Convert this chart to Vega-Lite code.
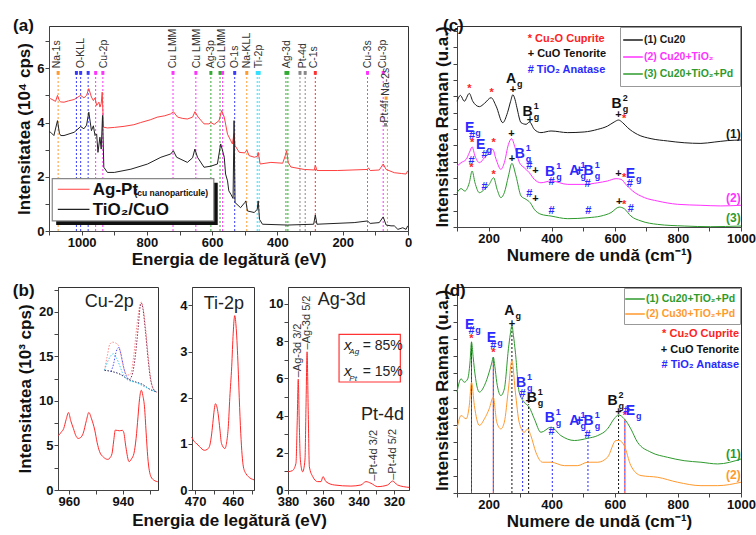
{
"$schema": "https://vega.github.io/schema/vega-lite/v6.json",
"background": "white",
"padding": {"left": 12, "top": 16, "right": 2, "bottom": 2},
"config": {
  "font": "Liberation Sans",
  "view": {"stroke": "#333", "strokeWidth": 1},
  "axis": {"labelFont": "Liberation Sans", "labelFontSize": 13, "labelFontWeight": "bold", "labelColor": "#111", "titleFont": "Liberation Sans", "titleFontSize": 17, "titleFontWeight": "bold", "titleColor": "#111", "domainColor": "#444", "tickColor": "#444", "tickSize": 4, "grid": false, "labelPadding": 1, "titlePadding": 3, "labelFlush": false, "labelOverlap": false},
  "text": {"font": "Liberation Sans"}
},
"datasets": {
  "surv": [
    {"x":1100,"y":4.9,"s":"Ag-Pt"},{"x":1095,"y":4.88,"s":"Ag-Pt"},{"x":1080,"y":4.78,"s":"Ag-Pt"},{"x":1074,"y":5.0,"s":"Ag-Pt"},{"x":1068,"y":4.8,"s":"Ag-Pt"},{"x":1064,"y":4.76,"s":"Ag-Pt"},{"x":1054,"y":4.75,"s":"Ag-Pt"},{"x":1040,"y":4.8,"s":"Ag-Pt"},{"x":1023,"y":4.85,"s":"Ag-Pt"},{"x":1003,"y":5.0,"s":"Ag-Pt"},{"x":993,"y":4.91,"s":"Ag-Pt"},{"x":985,"y":5.0,"s":"Ag-Pt"},{"x":978,"y":5.25,"s":"Ag-Pt"},{"x":970,"y":4.94,"s":"Ag-Pt"},{"x":964,"y":4.81,"s":"Ag-Pt"},{"x":959,"y":4.91,"s":"Ag-Pt"},{"x":954,"y":4.63,"s":"Ag-Pt"},{"x":947,"y":4.75,"s":"Ag-Pt"},{"x":944,"y":4.57,"s":"Ag-Pt"},{"x":940,"y":4.7,"s":"Ag-Pt"},{"x":937,"y":5.12,"s":"Ag-Pt"},{"x":933,"y":3.83,"s":"Ag-Pt"},{"x":921,"y":3.8,"s":"Ag-Pt"},{"x":900,"y":3.82,"s":"Ag-Pt"},{"x":870,"y":3.86,"s":"Ag-Pt"},{"x":840,"y":3.92,"s":"Ag-Pt"},{"x":819,"y":4.0,"s":"Ag-Pt"},{"x":790,"y":4.1,"s":"Ag-Pt"},{"x":768,"y":4.2,"s":"Ag-Pt"},{"x":745,"y":4.25,"s":"Ag-Pt"},{"x":727,"y":4.32,"s":"Ag-Pt"},{"x":719,"y":4.4,"s":"Ag-Pt"},{"x":706,"y":4.2,"s":"Ag-Pt"},{"x":690,"y":4.15,"s":"Ag-Pt"},{"x":676,"y":4.13,"s":"Ag-Pt"},{"x":660,"y":4.2,"s":"Ag-Pt"},{"x":653,"y":4.4,"s":"Ag-Pt"},{"x":643,"y":4.2,"s":"Ag-Pt"},{"x":625,"y":3.95,"s":"Ag-Pt"},{"x":610,"y":3.95,"s":"Ag-Pt"},{"x":604,"y":4.0,"s":"Ag-Pt"},{"x":594,"y":3.93,"s":"Ag-Pt"},{"x":579,"y":4.07,"s":"Ag-Pt"},{"x":571,"y":4.44,"s":"Ag-Pt"},{"x":563,"y":4.2,"s":"Ag-Pt"},{"x":553,"y":3.57,"s":"Ag-Pt"},{"x":543,"y":3.33,"s":"Ag-Pt"},{"x":538,"y":3.21,"s":"Ag-Pt"},{"x":533,"y":3.6,"s":"Ag-Pt"},{"x":530,"y":3.15,"s":"Ag-Pt"},{"x":517,"y":2.9,"s":"Ag-Pt"},{"x":500,"y":2.88,"s":"Ag-Pt"},{"x":494,"y":2.99,"s":"Ag-Pt"},{"x":487,"y":2.78,"s":"Ag-Pt"},{"x":471,"y":2.72,"s":"Ag-Pt"},{"x":462,"y":2.75,"s":"Ag-Pt"},{"x":459,"y":2.9,"s":"Ag-Pt"},{"x":453,"y":2.47,"s":"Ag-Pt"},{"x":420,"y":2.53,"s":"Ag-Pt"},{"x":384,"y":2.5,"s":"Ag-Pt"},{"x":376,"y":2.78,"s":"Ag-Pt"},{"x":372,"y":2.96,"s":"Ag-Pt"},{"x":367,"y":2.53,"s":"Ag-Pt"},{"x":359,"y":2.36,"s":"Ag-Pt"},{"x":318,"y":2.27,"s":"Ag-Pt"},{"x":287,"y":2.25,"s":"Ag-Pt"},{"x":284,"y":2.43,"s":"Ag-Pt"},{"x":279,"y":2.23,"s":"Ag-Pt"},{"x":216,"y":2.23,"s":"Ag-Pt"},{"x":124,"y":2.27,"s":"Ag-Pt"},{"x":121,"y":2.33,"s":"Ag-Pt"},{"x":116,"y":2.23,"s":"Ag-Pt"},{"x":88,"y":2.25,"s":"Ag-Pt"},{"x":76,"y":2.47,"s":"Ag-Pt"},{"x":67,"y":2.27,"s":"Ag-Pt"},{"x":42,"y":2.15,"s":"Ag-Pt"},{"x":20,"y":2.12,"s":"Ag-Pt"},{"x":6,"y":2.1,"s":"Ag-Pt"},{"x":1,"y":2.22,"s":"Ag-Pt"},
    {"x":1100,"y":3.66,"s":"TiO2/CuO"},{"x":1095,"y":3.64,"s":"TiO2/CuO"},{"x":1085,"y":3.52,"s":"TiO2/CuO"},{"x":1074,"y":4.07,"s":"TiO2/CuO"},{"x":1068,"y":3.6,"s":"TiO2/CuO"},{"x":1064,"y":3.52,"s":"TiO2/CuO"},{"x":1054,"y":3.52,"s":"TiO2/CuO"},{"x":1023,"y":3.64,"s":"TiO2/CuO"},{"x":1003,"y":3.85,"s":"TiO2/CuO"},{"x":993,"y":3.77,"s":"TiO2/CuO"},{"x":985,"y":3.9,"s":"TiO2/CuO"},{"x":978,"y":4.38,"s":"TiO2/CuO"},{"x":970,"y":3.7,"s":"TiO2/CuO"},{"x":964,"y":3.88,"s":"TiO2/CuO"},{"x":959,"y":3.52,"s":"TiO2/CuO"},{"x":954,"y":3.58,"s":"TiO2/CuO"},{"x":950,"y":2.9,"s":"TiO2/CuO"},{"x":944,"y":3.46,"s":"TiO2/CuO"},{"x":940,"y":3.02,"s":"TiO2/CuO"},{"x":936,"y":4.26,"s":"TiO2/CuO"},{"x":932,"y":2.35,"s":"TiO2/CuO"},{"x":921,"y":2.16,"s":"TiO2/CuO"},{"x":900,"y":2.16,"s":"TiO2/CuO"},{"x":849,"y":2.28,"s":"TiO2/CuO"},{"x":798,"y":2.47,"s":"TiO2/CuO"},{"x":757,"y":2.72,"s":"TiO2/CuO"},{"x":727,"y":2.84,"s":"TiO2/CuO"},{"x":719,"y":2.96,"s":"TiO2/CuO"},{"x":709,"y":2.72,"s":"TiO2/CuO"},{"x":676,"y":2.53,"s":"TiO2/CuO"},{"x":660,"y":2.7,"s":"TiO2/CuO"},{"x":653,"y":3.02,"s":"TiO2/CuO"},{"x":645,"y":2.72,"s":"TiO2/CuO"},{"x":625,"y":2.35,"s":"TiO2/CuO"},{"x":604,"y":2.39,"s":"TiO2/CuO"},{"x":584,"y":2.47,"s":"TiO2/CuO"},{"x":574,"y":3.21,"s":"TiO2/CuO"},{"x":569,"y":3.0,"s":"TiO2/CuO"},{"x":563,"y":2.72,"s":"TiO2/CuO"},{"x":559,"y":2.1,"s":"TiO2/CuO"},{"x":553,"y":1.85,"s":"TiO2/CuO"},{"x":549,"y":1.48,"s":"TiO2/CuO"},{"x":543,"y":1.36,"s":"TiO2/CuO"},{"x":536,"y":1.2,"s":"TiO2/CuO"},{"x":533,"y":4.07,"s":"TiO2/CuO"},{"x":530,"y":1.05,"s":"TiO2/CuO"},{"x":513,"y":0.86,"s":"TiO2/CuO"},{"x":500,"y":1.05,"s":"TiO2/CuO"},{"x":497,"y":1.11,"s":"TiO2/CuO"},{"x":492,"y":0.74,"s":"TiO2/CuO"},{"x":471,"y":0.68,"s":"TiO2/CuO"},{"x":462,"y":0.8,"s":"TiO2/CuO"},{"x":459,"y":1.11,"s":"TiO2/CuO"},{"x":455,"y":0.43,"s":"TiO2/CuO"},{"x":446,"y":0.25,"s":"TiO2/CuO"},{"x":369,"y":0.22,"s":"TiO2/CuO"},{"x":289,"y":0.25,"s":"TiO2/CuO"},{"x":284,"y":0.59,"s":"TiO2/CuO"},{"x":279,"y":0.25,"s":"TiO2/CuO"},{"x":165,"y":0.31,"s":"TiO2/CuO"},{"x":124,"y":0.37,"s":"TiO2/CuO"},{"x":116,"y":0.28,"s":"TiO2/CuO"},{"x":88,"y":0.31,"s":"TiO2/CuO"},{"x":76,"y":0.52,"s":"TiO2/CuO"},{"x":67,"y":0.22,"s":"TiO2/CuO"},{"x":52,"y":0.19,"s":"TiO2/CuO"},{"x":42,"y":0.19,"s":"TiO2/CuO"},{"x":31,"y":0.06,"s":"TiO2/CuO"},{"x":16,"y":0.12,"s":"TiO2/CuO"},{"x":6,"y":0.06,"s":"TiO2/CuO"},{"x":1,"y":0.19,"s":"TiO2/CuO"}
  ],
  "a_lines": [
    {"x":1072,"s":"Na","y":0,"y2":5.9},{"x":1016,"s":"O","y":0,"y2":5.9},{"x":1003,"s":"O","y":0,"y2":5.9},{"x":980,"s":"O","y":0,"y2":5.9},{"x":957,"s":"Cu","y":0,"y2":5.9},{"x":935,"s":"Cu","y":0,"y2":5.9},{"x":720,"s":"Cu","y":0,"y2":5.9},{"x":650,"s":"Cu","y":0,"y2":5.9},{"x":604,"s":"Ag","y":0,"y2":5.9},{"x":576,"s":"Ag","y":0,"y2":5.9},{"x":568,"s":"Cu","y":0,"y2":5.9},{"x":531,"s":"O","y":0,"y2":5.9},{"x":494,"s":"Na","y":0,"y2":5.9},{"x":462,"s":"Ti","y":0,"y2":5.9},{"x":456,"s":"Ti","y":0,"y2":5.9},{"x":374,"s":"Ag","y":0,"y2":5.9},{"x":368,"s":"Ag","y":0,"y2":5.9},{"x":331,"s":"Pt","y":0,"y2":5.9},{"x":315,"s":"Pt","y":0,"y2":5.9},{"x":284,"s":"C","y":0,"y2":5.9},{"x":124,"s":"Cu","y":0,"y2":5.9},{"x":76,"s":"Cu","y":0,"y2":5.9},{"x":63,"s":"Na","y":0,"y2":4.84}
  ],
  "a_bars": [
    {"x":1072,"s":"Na","y":5.76,"y2":5.9},{"x":1016,"s":"O","y":5.76,"y2":5.9},{"x":1003,"s":"O","y":5.76,"y2":5.9},{"x":980,"s":"O","y":5.76,"y2":5.9},{"x":957,"s":"Cu","y":5.76,"y2":5.9},{"x":935,"s":"Cu","y":5.76,"y2":5.9},{"x":720,"s":"Cu","y":5.76,"y2":5.9},{"x":650,"s":"Cu","y":5.76,"y2":5.9},{"x":604,"s":"Ag","y":5.76,"y2":5.9},{"x":576,"s":"Ag","y":5.76,"y2":5.9},{"x":568,"s":"Cu","y":5.76,"y2":5.9},{"x":531,"s":"O","y":5.76,"y2":5.9},{"x":494,"s":"Na","y":5.76,"y2":5.9},{"x":462,"s":"Ti","y":5.76,"y2":5.9},{"x":456,"s":"Ti","y":5.76,"y2":5.9},{"x":374,"s":"Ag","y":5.76,"y2":5.9},{"x":368,"s":"Ag","y":5.76,"y2":5.9},{"x":331,"s":"Pt","y":5.76,"y2":5.9},{"x":315,"s":"Pt","y":5.76,"y2":5.9},{"x":284,"s":"C","y":5.76,"y2":5.9},{"x":124,"s":"Cu","y":5.76,"y2":5.9},{"x":76,"s":"Cu","y":5.76,"y2":5.9},{"x":67,"s":"Na","y":4.84,"y2":4.96},{"x":69,"s":"Pt","y":3.85,"y2":3.98}
  ],
  "a_lab": [
    {"x":1074,"y":6.0,"t":"Na-1s"},{"x":1001,"y":6.0,"t":"O-KLL"},{"x":933,"y":6.0,"t":"Cu-2p"},{"x":720,"y":6.0,"t":"Cu LMM"},{"x":648,"y":6.0,"t":"Cu LMM"},{"x":605,"y":6.0,"t":"Ag-3p"},{"x":570,"y":6.0,"t":"Cu LMM"},{"x":531,"y":6.0,"t":"O-1s"},{"x":492,"y":6.0,"t":"Na-KLL"},{"x":457,"y":6.0,"t":"Ti-2p"},{"x":372,"y":6.0,"t":"Ag-3d"},{"x":323,"y":6.0,"t":"Pt-4d"},{"x":287,"y":6.0,"t":"C-1s"},{"x":124,"y":6.0,"t":"Cu-3s"},{"x":76,"y":6.0,"t":"Cu-3p"},{"x":67,"y":4.99,"t":"Na-2s"},{"x":69,"y":4.0,"t":"Pt-4f"}
  ],
  "a_leg_rules": [
    {"x":1073,"x2":976,"y":1.54,"s":"Ag-Pt"},{"x":1073,"x2":976,"y":0.8,"s":"TiO2/CuO"}
  ],
  "b_cu": [
    {"x":964,"y":6.1},{"x":963.7,"y":6.17},{"x":962.8,"y":6.5},{"x":961.9,"y":6.9},{"x":961,"y":7.9},{"x":960.1,"y":8.7},{"x":959.3,"y":7.8},{"x":958.3,"y":6.91},{"x":957.4,"y":6.1},{"x":956.5,"y":5.79},{"x":955.6,"y":5.9},{"x":954.7,"y":6.35},{"x":953.5,"y":7.8},{"x":952.6,"y":8.7},{"x":951.6,"y":8.0},{"x":950.4,"y":6.73},{"x":949.5,"y":5.3},{"x":948.6,"y":4.3},{"x":947.2,"y":3.7},{"x":945.6,"y":3.44},{"x":944.8,"y":3.6},{"x":944,"y":4.11},{"x":943.4,"y":5.5},{"x":942.8,"y":6.73},{"x":941.3,"y":6.65},{"x":940.2,"y":6.7},{"x":939.7,"y":6.5},{"x":938.9,"y":4.86},{"x":937.7,"y":3.18},{"x":936.8,"y":3.5},{"x":935.9,"y":4.11},{"x":935.1,"y":5.8},{"x":934.4,"y":8.22},{"x":933.8,"y":10.3},{"x":933.2,"y":11.2},{"x":932.6,"y":10.6},{"x":932,"y":9.34},{"x":931.4,"y":6.5},{"x":930.8,"y":3.74},{"x":929.6,"y":1.49},{"x":928.5,"y":1.1},{"x":927.1,"y":0.93}
  ],
  "b_fit": [
    {"x":946.8,"y":13.45,"s":"env"},{"x":945.8,"y":15.0,"s":"env"},{"x":944.8,"y":16.4,"s":"env"},{"x":943.8,"y":16.6,"s":"env"},{"x":942.6,"y":16.5,"s":"env"},{"x":941.4,"y":16.1,"s":"env"},{"x":940.6,"y":15.0,"s":"env"},{"x":939.6,"y":13.6,"s":"env"},{"x":938.4,"y":12.9,"s":"env"},{"x":937.2,"y":13.0,"s":"env"},{"x":936.0,"y":15.0,"s":"env"},{"x":934.8,"y":18.5,"s":"env"},{"x":933.6,"y":20.9,"s":"env"},{"x":933.2,"y":21.1,"s":"env"},{"x":932.6,"y":20.6,"s":"env"},{"x":931.7,"y":18.5,"s":"env"},{"x":930.6,"y":15.0,"s":"env"},{"x":929.9,"y":13.0,"s":"env"},{"x":928.5,"y":11.2,"s":"env"},{"x":927.5,"y":11.0,"s":"env"},
    {"x":946.8,"y":13.45,"s":"base"},{"x":944,"y":13.3,"s":"base"},{"x":941,"y":13.0,"s":"base"},{"x":938.4,"y":12.5,"s":"base"},{"x":935,"y":12.1,"s":"base"},{"x":933,"y":11.9,"s":"base"},{"x":930,"y":11.3,"s":"base"},{"x":927.5,"y":11.0,"s":"base"},
    {"x":946.8,"y":13.45,"s":"c1"},{"x":945.5,"y":14.5,"s":"c1"},{"x":944.4,"y":15.1,"s":"c1"},{"x":943.5,"y":15.3,"s":"c1"},{"x":942.5,"y":14.9,"s":"c1"},{"x":941.2,"y":14.0,"s":"c1"},{"x":940.2,"y":13.2,"s":"c1"},{"x":938.4,"y":12.4,"s":"c1"},{"x":935,"y":12.05,"s":"c1"},{"x":932,"y":11.6,"s":"c1"},{"x":927.5,"y":11.0,"s":"c1"},
    {"x":944.4,"y":13.3,"s":"c2"},{"x":943.4,"y":14.2,"s":"c2"},{"x":942.6,"y":15.4,"s":"c2"},{"x":941.6,"y":16.0,"s":"c2"},{"x":940.8,"y":15.4,"s":"c2"},{"x":940,"y":14.2,"s":"c2"},{"x":939,"y":13.0,"s":"c2"},{"x":938,"y":12.5,"s":"c2"},
    {"x":937.6,"y":12.4,"s":"c3"},{"x":936.5,"y":13.0,"s":"c3"},{"x":935.5,"y":14.8,"s":"c3"},{"x":934.4,"y":18.0,"s":"c3"},{"x":933.6,"y":20.6,"s":"c3"},{"x":933.2,"y":21.0,"s":"c3"},{"x":932.6,"y":20.4,"s":"c3"},{"x":931.7,"y":18.0,"s":"c3"},{"x":930.6,"y":14.5,"s":"c3"},{"x":929.9,"y":12.7,"s":"c3"},{"x":928.8,"y":11.4,"s":"c3"},{"x":927.5,"y":11.0,"s":"c3"}
  ],
  "b_ti": [
    {"x":470.9,"y":1.15},{"x":470.2,"y":1.05},{"x":469.5,"y":1.0},{"x":468.8,"y":0.94},{"x":467.5,"y":0.86},{"x":466.8,"y":0.88},{"x":466.2,"y":0.94},{"x":465.7,"y":1.15},{"x":465.3,"y":1.44},{"x":464.9,"y":1.75},{"x":464.6,"y":1.87},{"x":464.2,"y":1.8},{"x":463.9,"y":1.66},{"x":463.4,"y":1.3},{"x":463,"y":1.01},{"x":462.1,"y":0.9},{"x":461.6,"y":1.05},{"x":461.2,"y":1.37},{"x":460.8,"y":2.0},{"x":460.3,"y":2.67},{"x":459.9,"y":3.4},{"x":459.5,"y":3.78},{"x":459.1,"y":3.5},{"x":458.6,"y":2.67},{"x":458.3,"y":2.0},{"x":457.9,"y":1.23},{"x":457.2,"y":0.5},{"x":456.5,"y":0.35},{"x":455.9,"y":0.29},{"x":454.4,"y":0.22}
  ],
  "b_ag": [
    {"x":380,"y":0.98},{"x":377.5,"y":1.04},{"x":375.5,"y":1.43},{"x":374.8,"y":3.6},{"x":374.2,"y":5.95},{"x":373.6,"y":3.5},{"x":373,"y":1.61},{"x":371.7,"y":0.98},{"x":370.4,"y":1.61},{"x":369.8,"y":4.5},{"x":369.2,"y":7.42},{"x":368.6,"y":4.5},{"x":367.9,"y":1.25},{"x":366,"y":0.72},{"x":363.2,"y":0.45},{"x":361.3,"y":0.45},{"x":360.2,"y":0.72},{"x":358.5,"y":0.45},{"x":353.8,"y":0.27},{"x":344.4,"y":0.21},{"x":338.7,"y":0.27},{"x":335.9,"y":0.45},{"x":333,"y":0.36},{"x":329.3,"y":0.18},{"x":323.6,"y":0.27},{"x":320.8,"y":0.48},{"x":318,"y":0.27},{"x":311.4,"y":0.14}
  ],
  "b_ag_lab": [
    {"x":374.2,"y":6.05,"t":"–Ag-3d 3/2"},{"x":369.1,"y":7.55,"t":"–Ag-3d 5/2"},{"x":331.5,"y":0.5,"t":"–Pt-4d 3/2"},{"x":320.8,"y":0.55,"t":"–Pt-4d 5/2"}
  ],
  "rc": [
    {"x":100,"y":7.7,"s":"(1) Cu20"},{"x":111,"y":8.06,"s":"(1) Cu20"},{"x":123,"y":7.7,"s":"(1) Cu20"},{"x":139,"y":8.18,"s":"(1) Cu20"},{"x":150,"y":7.7,"s":"(1) Cu20"},{"x":171,"y":7.37,"s":"(1) Cu20"},{"x":187,"y":7.57,"s":"(1) Cu20"},{"x":208,"y":7.92,"s":"(1) Cu20"},{"x":224,"y":7.4,"s":"(1) Cu20"},{"x":245,"y":6.39,"s":"(1) Cu20"},{"x":260,"y":7.0,"s":"(1) Cu20"},{"x":270,"y":7.7,"s":"(1) Cu20"},{"x":277,"y":8.1,"s":"(1) Cu20"},{"x":284,"y":7.8,"s":"(1) Cu20"},{"x":290,"y":7.3,"s":"(1) Cu20"},{"x":303,"y":6.39,"s":"(1) Cu20"},{"x":319,"y":6.29,"s":"(1) Cu20"},{"x":330,"y":6.43,"s":"(1) Cu20"},{"x":345,"y":5.98,"s":"(1) Cu20"},{"x":366,"y":5.78,"s":"(1) Cu20"},{"x":398,"y":5.88,"s":"(1) Cu20"},{"x":451,"y":5.78,"s":"(1) Cu20"},{"x":503,"y":5.82,"s":"(1) Cu20"},{"x":546,"y":5.98,"s":"(1) Cu20"},{"x":577,"y":6.18,"s":"(1) Cu20"},{"x":598,"y":6.43,"s":"(1) Cu20"},{"x":612,"y":6.55,"s":"(1) Cu20"},{"x":625,"y":6.39,"s":"(1) Cu20"},{"x":641,"y":6.08,"s":"(1) Cu20"},{"x":672,"y":5.67,"s":"(1) Cu20"},{"x":715,"y":5.41,"s":"(1) Cu20"},{"x":767,"y":5.27,"s":"(1) Cu20"},{"x":820,"y":5.16,"s":"(1) Cu20"},{"x":873,"y":5.12,"s":"(1) Cu20"},{"x":915,"y":5.2,"s":"(1) Cu20"},{"x":957,"y":5.29,"s":"(1) Cu20"},{"x":1000,"y":5.33,"s":"(1) Cu20"},
    {"x":100,"y":3.73,"s":"(2) Cu20+TiO₂"},{"x":113,"y":3.94,"s":"(2) Cu20+TiO₂"},{"x":129,"y":4.14,"s":"(2) Cu20+TiO₂"},{"x":139,"y":4.55,"s":"(2) Cu20+TiO₂"},{"x":148,"y":4.9,"s":"(2) Cu20+TiO₂"},{"x":157,"y":4.35,"s":"(2) Cu20+TiO₂"},{"x":171,"y":3.94,"s":"(2) Cu20+TiO₂"},{"x":187,"y":4.24,"s":"(2) Cu20+TiO₂"},{"x":202,"y":4.55,"s":"(2) Cu20+TiO₂"},{"x":213,"y":4.76,"s":"(2) Cu20+TiO₂"},{"x":224,"y":4.14,"s":"(2) Cu20+TiO₂"},{"x":239,"y":3.53,"s":"(2) Cu20+TiO₂"},{"x":250,"y":3.94,"s":"(2) Cu20+TiO₂"},{"x":263,"y":5.06,"s":"(2) Cu20+TiO₂"},{"x":273,"y":5.41,"s":"(2) Cu20+TiO₂"},{"x":284,"y":4.86,"s":"(2) Cu20+TiO₂"},{"x":298,"y":3.94,"s":"(2) Cu20+TiO₂"},{"x":313,"y":3.63,"s":"(2) Cu20+TiO₂"},{"x":329,"y":3.33,"s":"(2) Cu20+TiO₂"},{"x":345,"y":2.92,"s":"(2) Cu20+TiO₂"},{"x":366,"y":2.71,"s":"(2) Cu20+TiO₂"},{"x":398,"y":2.82,"s":"(2) Cu20+TiO₂"},{"x":451,"y":2.61,"s":"(2) Cu20+TiO₂"},{"x":503,"y":2.61,"s":"(2) Cu20+TiO₂"},{"x":546,"y":2.71,"s":"(2) Cu20+TiO₂"},{"x":577,"y":2.82,"s":"(2) Cu20+TiO₂"},{"x":604,"y":2.96,"s":"(2) Cu20+TiO₂"},{"x":620,"y":2.92,"s":"(2) Cu20+TiO₂"},{"x":635,"y":2.61,"s":"(2) Cu20+TiO₂"},{"x":657,"y":2.2,"s":"(2) Cu20+TiO₂"},{"x":694,"y":1.8,"s":"(2) Cu20+TiO₂"},{"x":736,"y":1.59,"s":"(2) Cu20+TiO₂"},{"x":799,"y":1.39,"s":"(2) Cu20+TiO₂"},{"x":873,"y":1.33,"s":"(2) Cu20+TiO₂"},{"x":936,"y":1.29,"s":"(2) Cu20+TiO₂"},{"x":1000,"y":1.33,"s":"(2) Cu20+TiO₂"},
    {"x":100,"y":2.1,"s":"(3) Cu20+TiO₂+Pd"},{"x":113,"y":2.35,"s":"(3) Cu20+TiO₂+Pd"},{"x":125,"y":2.2,"s":"(3) Cu20+TiO₂+Pd"},{"x":139,"y":2.71,"s":"(3) Cu20+TiO₂+Pd"},{"x":148,"y":3.43,"s":"(3) Cu20+TiO₂+Pd"},{"x":157,"y":2.71,"s":"(3) Cu20+TiO₂+Pd"},{"x":171,"y":2.1,"s":"(3) Cu20+TiO₂+Pd"},{"x":187,"y":2.31,"s":"(3) Cu20+TiO₂+Pd"},{"x":202,"y":2.61,"s":"(3) Cu20+TiO₂+Pd"},{"x":216,"y":3.02,"s":"(3) Cu20+TiO₂+Pd"},{"x":227,"y":2.31,"s":"(3) Cu20+TiO₂+Pd"},{"x":239,"y":1.8,"s":"(3) Cu20+TiO₂+Pd"},{"x":250,"y":2.1,"s":"(3) Cu20+TiO₂+Pd"},{"x":263,"y":3.12,"s":"(3) Cu20+TiO₂+Pd"},{"x":274,"y":3.9,"s":"(3) Cu20+TiO₂+Pd"},{"x":287,"y":3.12,"s":"(3) Cu20+TiO₂+Pd"},{"x":303,"y":1.9,"s":"(3) Cu20+TiO₂+Pd"},{"x":319,"y":1.69,"s":"(3) Cu20+TiO₂+Pd"},{"x":332,"y":1.49,"s":"(3) Cu20+TiO₂+Pd"},{"x":345,"y":1.08,"s":"(3) Cu20+TiO₂+Pd"},{"x":366,"y":0.78,"s":"(3) Cu20+TiO₂+Pd"},{"x":398,"y":0.67,"s":"(3) Cu20+TiO₂+Pd"},{"x":451,"y":0.51,"s":"(3) Cu20+TiO₂+Pd"},{"x":515,"y":0.57,"s":"(3) Cu20+TiO₂+Pd"},{"x":556,"y":0.67,"s":"(3) Cu20+TiO₂+Pd"},{"x":588,"y":0.88,"s":"(3) Cu20+TiO₂+Pd"},{"x":614,"y":1.22,"s":"(3) Cu20+TiO₂+Pd"},{"x":630,"y":1.12,"s":"(3) Cu20+TiO₂+Pd"},{"x":651,"y":0.67,"s":"(3) Cu20+TiO₂+Pd"},{"x":683,"y":0.37,"s":"(3) Cu20+TiO₂+Pd"},{"x":736,"y":0.16,"s":"(3) Cu20+TiO₂+Pd"},{"x":820,"y":0.06,"s":"(3) Cu20+TiO₂+Pd"},{"x":903,"y":0.02,"s":"(3) Cu20+TiO₂+Pd"},{"x":1000,"y":0.06,"s":"(3) Cu20+TiO₂+Pd"}
  ],
  "c_num": [
    {"x":976,"y":5.67,"t":"(1)","s":"(1) Cu20"},{"x":976,"y":1.75,"t":"(2)","s":"(2) Cu20+TiO₂"},{"x":976,"y":0.57,"t":"(3)","s":"(3) Cu20+TiO₂+Pd"}
  ],
  "c_sym": [
    {"x":139,"y":8.47,"t":"*","s":"Cu2O"},{"x":210,"y":8.18,"t":"*","s":"Cu2O"},{"x":277,"y":8.39,"t":"+","s":"CuO"},{"x":331,"y":6.53,"t":"+","s":"CuO"},{"x":612,"y":6.86,"t":"+","s":"CuO"},{"x":630,"y":6.6,"t":"*","s":"Cu2O"},
    {"x":148,"y":5.55,"t":"#","s":"TiO2"},{"x":148,"y":5.16,"t":"*","s":"Cu2O"},{"x":187,"y":4.43,"t":"#","s":"TiO2"},{"x":216,"y":5.14,"t":"*","s":"Cu2O"},{"x":273,"y":5.71,"t":"+","s":"CuO"},{"x":329,"y":3.73,"t":"#","s":"TiO2"},{"x":349,"y":3.43,"t":"+","s":"CuO"},{"x":400,"y":2.76,"t":"#","s":"TiO2"},{"x":514,"y":2.61,"t":"#","s":"TiO2"},{"x":612,"y":3.24,"t":"+","s":"CuO"},{"x":630,"y":3.02,"t":"*","s":"Cu2O"},{"x":648,"y":2.65,"t":"#","s":"TiO2"},
    {"x":146,"y":4.02,"t":"#","s":"TiO2"},{"x":146,"y":3.63,"t":"*","s":"Cu2O"},{"x":187,"y":2.47,"t":"#","s":"TiO2"},{"x":216,"y":3.16,"t":"*","s":"Cu2O"},{"x":274,"y":4.14,"t":"+","s":"CuO"},{"x":329,"y":2.04,"t":"#","s":"TiO2"},{"x":349,"y":1.73,"t":"+","s":"CuO"},{"x":400,"y":0.98,"t":"#","s":"TiO2"},{"x":516,"y":0.98,"t":"#","s":"TiO2"},{"x":614,"y":1.55,"t":"+","s":"CuO"},{"x":630,"y":1.35,"t":"*","s":"Cu2O"},{"x":651,"y":1.12,"t":"#","s":"TiO2"}
  ],
  "c_ann": [
    {"x":287,"y":8.84,"t":"A","sub":"g","sup":"","s":"CuO"},{"x":340,"y":6.8,"t":"B","sub":"g","sup":"1","s":"CuO"},{"x":622,"y":7.3,"t":"B","sub":"g","sup":"2","s":"CuO"},
    {"x":155,"y":5.82,"t":"E","sub":"g","sup":"","s":"TiO2"},{"x":190,"y":4.8,"t":"E","sub":"g","sup":"","s":"TiO2"},{"x":315,"y":4.24,"t":"B","sub":"g","sup":"1","s":"TiO2"},{"x":411,"y":3.12,"t":"B","sub":"g","sup":"1","s":"TiO2"},{"x":488,"y":3.16,"t":"A","sub":"g","sup":"1","s":"TiO2"},{"x":533,"y":3.16,"t":"+B","sub":"g","sup":"1","s":"TiO2"},{"x":664,"y":3.02,"t":"E","sub":"g","sup":"","s":"TiO2"}
  ],
  "c_leg": [
    {"x":324,"y":11.53,"t":"* Cu₂O Cuprite","s":"Cu2O"},{"x":324,"y":10.57,"t":"+ CuO Tenorite","s":"CuO"},{"x":324,"y":9.59,"t":"# TiO₂ Anatase","s":"TiO2"}
  ],
  "rd": [
    {"x":100,"y":5.9,"s":"(1) Cu20+TiO₂+Pd"},{"x":113,"y":6.68,"s":"(1) Cu20+TiO₂+Pd"},{"x":123,"y":6.48,"s":"(1) Cu20+TiO₂+Pd"},{"x":134,"y":6.68,"s":"(1) Cu20+TiO₂+Pd"},{"x":141,"y":7.6,"s":"(1) Cu20+TiO₂+Pd"},{"x":146,"y":8.83,"s":"(1) Cu20+TiO₂+Pd"},{"x":151,"y":8.0,"s":"(1) Cu20+TiO₂+Pd"},{"x":155,"y":7.27,"s":"(1) Cu20+TiO₂+Pd"},{"x":171,"y":5.9,"s":"(1) Cu20+TiO₂+Pd"},{"x":187,"y":6.29,"s":"(1) Cu20+TiO₂+Pd"},{"x":202,"y":7.07,"s":"(1) Cu20+TiO₂+Pd"},{"x":210,"y":7.6,"s":"(1) Cu20+TiO₂+Pd"},{"x":215,"y":7.95,"s":"(1) Cu20+TiO₂+Pd"},{"x":220,"y":7.4,"s":"(1) Cu20+TiO₂+Pd"},{"x":226,"y":6.48,"s":"(1) Cu20+TiO₂+Pd"},{"x":239,"y":5.7,"s":"(1) Cu20+TiO₂+Pd"},{"x":250,"y":6.09,"s":"(1) Cu20+TiO₂+Pd"},{"x":263,"y":8.44,"s":"(1) Cu20+TiO₂+Pd"},{"x":269,"y":9.3,"s":"(1) Cu20+TiO₂+Pd"},{"x":274,"y":9.8,"s":"(1) Cu20+TiO₂+Pd"},{"x":279,"y":9.2,"s":"(1) Cu20+TiO₂+Pd"},{"x":285,"y":8.24,"s":"(1) Cu20+TiO₂+Pd"},{"x":297,"y":5.9,"s":"(1) Cu20+TiO₂+Pd"},{"x":313,"y":5.31,"s":"(1) Cu20+TiO₂+Pd"},{"x":329,"y":5.02,"s":"(1) Cu20+TiO₂+Pd"},{"x":345,"y":4.34,"s":"(1) Cu20+TiO₂+Pd"},{"x":366,"y":3.55,"s":"(1) Cu20+TiO₂+Pd"},{"x":398,"y":3.85,"s":"(1) Cu20+TiO₂+Pd"},{"x":429,"y":3.36,"s":"(1) Cu20+TiO₂+Pd"},{"x":472,"y":3.07,"s":"(1) Cu20+TiO₂+Pd"},{"x":514,"y":3.2,"s":"(1) Cu20+TiO₂+Pd"},{"x":546,"y":3.36,"s":"(1) Cu20+TiO₂+Pd"},{"x":577,"y":3.75,"s":"(1) Cu20+TiO₂+Pd"},{"x":598,"y":4.34,"s":"(1) Cu20+TiO₂+Pd"},{"x":612,"y":4.57,"s":"(1) Cu20+TiO₂+Pd"},{"x":630,"y":4.34,"s":"(1) Cu20+TiO₂+Pd"},{"x":651,"y":3.75,"s":"(1) Cu20+TiO₂+Pd"},{"x":672,"y":2.97,"s":"(1) Cu20+TiO₂+Pd"},{"x":715,"y":2.38,"s":"(1) Cu20+TiO₂+Pd"},{"x":767,"y":2.09,"s":"(1) Cu20+TiO₂+Pd"},{"x":820,"y":1.89,"s":"(1) Cu20+TiO₂+Pd"},{"x":873,"y":1.8,"s":"(1) Cu20+TiO₂+Pd"},{"x":926,"y":1.7,"s":"(1) Cu20+TiO₂+Pd"},{"x":1000,"y":1.99,"s":"(1) Cu20+TiO₂+Pd"},
    {"x":100,"y":3.75,"s":"(2) Cu30+TiO₂+Pd"},{"x":113,"y":4.53,"s":"(2) Cu30+TiO₂+Pd"},{"x":129,"y":4.34,"s":"(2) Cu30+TiO₂+Pd"},{"x":139,"y":5.12,"s":"(2) Cu30+TiO₂+Pd"},{"x":146,"y":6.48,"s":"(2) Cu30+TiO₂+Pd"},{"x":155,"y":5.12,"s":"(2) Cu30+TiO₂+Pd"},{"x":171,"y":3.95,"s":"(2) Cu30+TiO₂+Pd"},{"x":187,"y":4.34,"s":"(2) Cu30+TiO₂+Pd"},{"x":202,"y":4.92,"s":"(2) Cu30+TiO₂+Pd"},{"x":215,"y":5.6,"s":"(2) Cu30+TiO₂+Pd"},{"x":226,"y":4.14,"s":"(2) Cu30+TiO₂+Pd"},{"x":239,"y":3.75,"s":"(2) Cu30+TiO₂+Pd"},{"x":250,"y":4.14,"s":"(2) Cu30+TiO₂+Pd"},{"x":263,"y":6.09,"s":"(2) Cu30+TiO₂+Pd"},{"x":274,"y":7.75,"s":"(2) Cu30+TiO₂+Pd"},{"x":285,"y":5.9,"s":"(2) Cu30+TiO₂+Pd"},{"x":297,"y":4.14,"s":"(2) Cu30+TiO₂+Pd"},{"x":313,"y":3.55,"s":"(2) Cu30+TiO₂+Pd"},{"x":324,"y":3.75,"s":"(2) Cu30+TiO₂+Pd"},{"x":334,"y":3.36,"s":"(2) Cu30+TiO₂+Pd"},{"x":350,"y":2.38,"s":"(2) Cu30+TiO₂+Pd"},{"x":371,"y":1.8,"s":"(2) Cu30+TiO₂+Pd"},{"x":398,"y":1.8,"s":"(2) Cu30+TiO₂+Pd"},{"x":440,"y":1.6,"s":"(2) Cu30+TiO₂+Pd"},{"x":482,"y":1.6,"s":"(2) Cu30+TiO₂+Pd"},{"x":514,"y":1.8,"s":"(2) Cu30+TiO₂+Pd"},{"x":546,"y":1.8,"s":"(2) Cu30+TiO₂+Pd"},{"x":577,"y":2.09,"s":"(2) Cu30+TiO₂+Pd"},{"x":604,"y":3.07,"s":"(2) Cu30+TiO₂+Pd"},{"x":614,"y":3.07,"s":"(2) Cu30+TiO₂+Pd"},{"x":630,"y":2.77,"s":"(2) Cu30+TiO₂+Pd"},{"x":651,"y":1.6,"s":"(2) Cu30+TiO₂+Pd"},{"x":683,"y":1.02,"s":"(2) Cu30+TiO₂+Pd"},{"x":736,"y":0.92,"s":"(2) Cu30+TiO₂+Pd"},{"x":799,"y":0.63,"s":"(2) Cu30+TiO₂+Pd"},{"x":873,"y":0.43,"s":"(2) Cu30+TiO₂+Pd"},{"x":926,"y":0.43,"s":"(2) Cu30+TiO₂+Pd"},{"x":1000,"y":0.63,"s":"(2) Cu30+TiO₂+Pd"}
  ],
  "d_num": [
    {"x":976,"y":2.28,"t":"(1)","s":"(1) Cu20+TiO₂+Pd"},{"x":976,"y":1.05,"t":"(2)","s":"(2) Cu30+TiO₂+Pd"}
  ],
  "d_vl": [
    {"x":146,"y":0,"y2":8.85,"s":"Cu2O"},{"x":146,"y":0,"y2":8.85,"s":"TiO2"},{"x":215,"y":0,"y2":7.95,"s":"Cu2O"},{"x":215,"y":0,"y2":7.95,"s":"TiO2"},{"x":274,"y":0,"y2":9.75,"s":"CuO"},{"x":308,"y":0,"y2":5.6,"s":"TiO2"},{"x":327,"y":0,"y2":5.2,"s":"CuO"},{"x":402,"y":0,"y2":3.35,"s":"TiO2"},{"x":515,"y":0,"y2":3.2,"s":"TiO2"},{"x":612,"y":0,"y2":4.55,"s":"CuO"},{"x":632,"y":0,"y2":4.3,"s":"Cu2O"},{"x":632,"y":0,"y2":4.3,"s":"TiO2"}
  ],
  "d_sym": [
    {"x":146,"y":9.45,"t":"#","s":"TiO2"},{"x":146,"y":9.0,"t":"*","s":"Cu2O"},{"x":215,"y":8.6,"t":"#","s":"TiO2"},{"x":215,"y":8.2,"t":"*","s":"Cu2O"},{"x":274,"y":9.9,"t":"+","s":"CuO"},{"x":308,"y":5.8,"t":"#","s":"TiO2"},{"x":327,"y":5.4,"t":"+","s":"CuO"},{"x":400,"y":3.55,"t":"#","s":"TiO2"},{"x":514,"y":3.4,"t":"#","s":"TiO2"},{"x":612,"y":4.75,"t":"+","s":"CuO"},{"x":632,"y":4.48,"t":"*","s":"Cu2O"},{"x":637,"y":4.8,"t":"#","s":"TiO2"}
  ],
  "d_ann": [
    {"x":155,"y":9.61,"t":"E","sub":"g","sup":"","s":"TiO2"},{"x":224,"y":8.83,"t":"E","sub":"g","sup":"","s":"TiO2"},{"x":282,"y":10.39,"t":"A","sub":"g","sup":"","s":"CuO"},{"x":319,"y":6.19,"t":"B","sub":"g","sup":"1","s":"TiO2"},{"x":353,"y":5.31,"t":"B","sub":"g","sup":"1","s":"CuO"},{"x":410,"y":4.14,"t":"B","sub":"g","sup":"1","s":"TiO2"},{"x":488,"y":3.95,"t":"A","sub":"g","sup":"1","s":"TiO2"},{"x":533,"y":3.95,"t":"+B","sub":"g","sup":"1","s":"TiO2"},{"x":609,"y":5.12,"t":"B","sub":"g","sup":"2","s":"CuO"},{"x":664,"y":4.59,"t":"E","sub":"g","sup":"","s":"TiO2"}
  ],
  "d_leg": [
    {"x":994,"y":9.3,"t":"* Cu₂O Cuprite","s":"Cu2O"},{"x":994,"y":8.38,"t":"+ CuO Tenorite","s":"CuO"},{"x":994,"y":7.46,"t":"# TiO₂ Anatase","s":"TiO2"}
  ]
},
"spacing": 13,
"resolve": {"scale": {"color": "independent"}},
"vconcat": [
  {
    "bounds": "flush", "spacing": 49,
    "resolve": {"scale": {"color": "independent"}},
    "hconcat": [
      {
        "width": 359, "height": 205,
        "encoding": {
          "x": {"field": "x", "type": "quantitative", "scale": {"domain": [0, 1100], "reverse": true, "nice": false, "zero": false},
                "axis": {"values": [0,100,200,300,400,500,600,700,800,900,1000,1100], "format": "d", "labelExpr": "datum.value % 200 == 0 ? datum.label : ''", "title": "Energia de legătură (eV)", "titlePadding": 2}},
          "y": {"field": "y", "type": "quantitative", "scale": {"domain": [0, 7.56], "nice": false},
                "axis": {"values": [0,1,2,3,4,5,6,7], "format": "d", "labelExpr": "datum.value % 2 == 0 ? datum.label : ''", "title": "Intensitatea (10⁴ cps)", "titlePadding": 3}}
        },
        "layer": [
          {"data": {"name": "a_lines"}, "mark": {"type": "rule", "strokeDash": [2, 2], "strokeWidth": 1},
           "encoding": {"y2": {"field": "y2"}, "color": {"field": "s", "type": "nominal", "legend": null, "scale": {"domain": ["Ag-Pt","TiO2/CuO","Na","O","Cu","Ag","Ti","Pt","C"], "range": ["#ff4040","#222222","#ff9a2e","#3a3aff","#ff33ff","#33aa33","#33e0ff","#888888","#ff3030"]}}}},
          {"data": {"name": "a_bars"}, "mark": {"type": "rule", "strokeWidth": 3},
           "encoding": {"y2": {"field": "y2"}, "color": {"field": "s", "type": "nominal", "legend": null, "scale": {"domain": ["Ag-Pt","TiO2/CuO","Na","O","Cu","Ag","Ti","Pt","C"], "range": ["#ff4040","#222222","#ff9a2e","#3a3aff","#ff33ff","#33aa33","#33e0ff","#888888","#ff3030"]}}}},
          {"data": {"name": "surv"}, "mark": {"type": "line", "strokeWidth": 1},
           "encoding": {"color": {"field": "s", "type": "nominal", "legend": null, "scale": {"domain": ["Ag-Pt","TiO2/CuO","Na","O","Cu","Ag","Ti","Pt","C"], "range": ["#ff4040","#222222","#ff9a2e","#3a3aff","#ff33ff","#33aa33","#33e0ff","#888888","#ff3030"]}}}},
          {"data": {"name": "a_lab"}, "mark": {"type": "text", "angle": 270, "align": "left", "baseline": "middle", "fontSize": 10.5, "fill": "#333"},
           "encoding": {"text": {"field": "t"}}},
          {"data": {"values": [{"x": 1078, "x2": 583, "y": 1.78, "y2": 0.22}]}, "mark": {"type": "rect", "fill": "#111"}, "encoding": {"x2": {"field": "x2"}, "y2": {"field": "y2"}}},
          {"data": {"values": [{"x": 1090, "x2": 595, "y": 1.93, "y2": 0.37}]}, "mark": {"type": "rect", "fill": "white", "stroke": "#888", "strokeWidth": 1.2}, "encoding": {"x2": {"field": "x2"}, "y2": {"field": "y2"}}},
          {"data": {"name": "a_leg_rules"}, "mark": {"type": "rule", "strokeWidth": 1.2},
           "encoding": {"x2": {"field": "x2"}, "color": {"field": "s", "type": "nominal", "legend": null, "scale": {"domain": ["Ag-Pt","TiO2/CuO","Na","O","Cu","Ag","Ti","Pt","C"], "range": ["#ff4040","#222222","#ff9a2e","#3a3aff","#ff33ff","#33aa33","#33e0ff","#888888","#ff3030"]}}}},
          {"data": {"values": [{"x": 966, "y": 1.33, "t": "Ag-Pt"}, {"x": 966, "y": 0.6, "t": "TiO₂/CuO"}]}, "mark": {"type": "text", "align": "left", "baseline": "alphabetic", "fontSize": 17, "fontWeight": "bold", "fill": "#111"},
           "encoding": {"text": {"field": "t"}}},
          {"data": {"values": [{"x": 838, "y": 1.3, "t": "(cu nanoparticule)"}]}, "mark": {"type": "text", "align": "left", "baseline": "alphabetic", "fontSize": 8.5, "fontWeight": "bold", "fill": "#111"},
           "encoding": {"text": {"field": "t"}}},
          {"data": {"values": [{"x": 1210, "y": 7.38, "t": "(a)"}]}, "mark": {"type": "text", "align": "left", "baseline": "alphabetic", "fontSize": 17, "fontWeight": "bold", "fill": "#111"},
           "encoding": {"text": {"field": "t"}}}
        ]
      },
      {
        "width": 284, "height": 201,
        "encoding": {
          "x": {"field": "x", "type": "quantitative", "scale": {"domain": [100, 1000], "nice": false, "zero": false},
                "axis": {"values": [100,200,300,400,500,600,700,800,900,1000], "format": "d", "labelExpr": "datum.value % 200 == 0 ? datum.label : ''", "title": "Numere de undă (cm⁻¹)", "titlePadding": 2}},
          "y": {"field": "y", "type": "quantitative", "scale": {"domain": [0, 12.31], "nice": false},
                "axis": {"values": [0,1,2,3,4,5,6,7,8,9,10,11,12], "labels": false, "title": "Intensitatea Raman (u.a.)", "titlePadding": 1}}
        },
        "layer": [
          {"data": {"name": "rc"}, "mark": {"type": "line", "strokeWidth": 1, "interpolate": "monotone"},
           "encoding": {"color": {"field": "s", "type": "nominal",
              "scale": {"domain": ["(1) Cu20","(2) Cu20+TiO₂","(3) Cu20+TiO₂+Pd","Cu2O","CuO","TiO2"], "range": ["#1a1a1a","#ff33ff","#2e9a2e","#ff2222","#111111","#2a2aff"]},
              "legend": {"values": ["(1) Cu20","(2) Cu20+TiO₂","(3) Cu20+TiO₂+Pd"], "title": null, "orient": "top-right", "offset": 1, "symbolType": "M-1.6,0H1.6", "symbolStrokeWidth": 1.5, "symbolSize": 150, "labelFont": "Liberation Sans", "labelFontSize": 10.5, "labelFontWeight": "bold", "labelLimit": 250, "strokeColor": "#999", "fillColor": "white", "padding": 6, "rowPadding": 4,
                "encode": {"labels": {"update": {"fill": {"signal": "datum.value === '(1) Cu20' ? '#1a1a1a' : datum.value === '(2) Cu20+TiO₂' ? '#ff33ff' : '#2e9a2e'"}}}}}}}},
          {"data": {"name": "c_num"}, "mark": {"type": "text", "align": "center", "baseline": "middle", "fontSize": 12, "fontWeight": "bold"},
           "encoding": {"text": {"field": "t"}, "color": {"field": "s", "type": "nominal", "scale": {"domain": ["(1) Cu20","(2) Cu20+TiO₂","(3) Cu20+TiO₂+Pd","Cu2O","CuO","TiO2"], "range": ["#1a1a1a","#ff33ff","#2e9a2e","#ff2222","#111111","#2a2aff"]}}}},
          {"data": {"name": "c_sym"}, "mark": {"type": "text", "align": "center", "baseline": "middle", "fontSize": 11, "fontWeight": "bold"},
           "encoding": {"text": {"field": "t"}, "color": {"field": "s", "type": "nominal", "scale": {"domain": ["(1) Cu20","(2) Cu20+TiO₂","(3) Cu20+TiO₂+Pd","Cu2O","CuO","TiO2"], "range": ["#1a1a1a","#ff33ff","#2e9a2e","#ff2222","#111111","#2a2aff"]}}}},
          {"data": {"name": "c_ann"}, "mark": {"type": "text", "align": "right", "baseline": "alphabetic", "fontSize": 14, "fontWeight": "bold"},
           "encoding": {"text": {"field": "t"}, "color": {"field": "s", "type": "nominal", "scale": {"domain": ["(1) Cu20","(2) Cu20+TiO₂","(3) Cu20+TiO₂+Pd","Cu2O","CuO","TiO2"], "range": ["#1a1a1a","#ff33ff","#2e9a2e","#ff2222","#111111","#2a2aff"]}}}},
          {"data": {"name": "c_ann"}, "mark": {"type": "text", "align": "left", "baseline": "alphabetic", "fontSize": 9, "fontWeight": "bold", "dx": 1, "dy": 4},
           "encoding": {"text": {"field": "sub"}, "color": {"field": "s", "type": "nominal", "scale": {"domain": ["(1) Cu20","(2) Cu20+TiO₂","(3) Cu20+TiO₂+Pd","Cu2O","CuO","TiO2"], "range": ["#1a1a1a","#ff33ff","#2e9a2e","#ff2222","#111111","#2a2aff"]}}}},
          {"data": {"name": "c_ann"}, "mark": {"type": "text", "align": "left", "baseline": "alphabetic", "fontSize": 9, "fontWeight": "bold", "dx": 1, "dy": -7},
           "encoding": {"text": {"field": "sup"}, "color": {"field": "s", "type": "nominal", "scale": {"domain": ["(1) Cu20","(2) Cu20+TiO₂","(3) Cu20+TiO₂+Pd","Cu2O","CuO","TiO2"], "range": ["#1a1a1a","#ff33ff","#2e9a2e","#ff2222","#111111","#2a2aff"]}}}},
          {"data": {"name": "c_leg"}, "mark": {"type": "text", "align": "left", "baseline": "middle", "fontSize": 11, "fontWeight": "bold"},
           "encoding": {"text": {"field": "t"}, "color": {"field": "s", "type": "nominal", "scale": {"domain": ["(1) Cu20","(2) Cu20+TiO₂","(3) Cu20+TiO₂+Pd","Cu2O","CuO","TiO2"], "range": ["#1a1a1a","#ff33ff","#2e9a2e","#ff2222","#111111","#2a2aff"]}}}},
          {"data": {"values": [{"x": 55.6, "y": 12.0, "t": "(c)"}]}, "mark": {"type": "text", "align": "left", "baseline": "alphabetic", "fontSize": 17, "fontWeight": "bold", "fill": "#111"},
           "encoding": {"text": {"field": "t"}}}
        ]
      }
    ]
  },
  {
    "bounds": "flush", "spacing": 0,
    "resolve": {"scale": {"color": "independent"}},
    "hconcat": [
      {"width": 9, "height": 10, "view": {"stroke": null}, "data": {"values": [{"v": 0}]}, "mark": {"type": "point", "opacity": 0}, "encoding": {}},
      {
        "width": 100, "height": 203,
        "encoding": {
          "x": {"field": "x", "type": "quantitative", "scale": {"domain": [927, 964], "reverse": true, "nice": false, "zero": false},
                "axis": {"values": [930, 940, 950, 960], "format": "d", "labelExpr": "datum.value % 20 == 0 ? datum.label : ''", "title": null}},
          "y": {"field": "y", "type": "quantitative", "scale": {"domain": [0, 22.8], "nice": false},
                "axis": {"values": [0,2.5,5,7.5,10,12.5,15,17.5,20,22.5], "format": "d", "labelExpr": "datum.value % 5 == 0 ? datum.label : ''", "title": "Intensitatea (10³ cps)", "titlePadding": 4}}
        },
        "layer": [
          {"data": {"name": "b_cu"}, "mark": {"type": "line", "strokeWidth": 1, "color": "#ff2a2a", "interpolate": "monotone"}, "encoding": {}},
          {"data": {"name": "b_fit"}, "mark": {"type": "line", "strokeWidth": 1, "strokeDash": [1.5, 1.5], "interpolate": "monotone"},
           "encoding": {"color": {"field": "s", "type": "nominal", "legend": null, "scale": {"domain": ["env","base","c1","c2","c3"], "range": ["#ff8c8c","#1a1a5a","#3ccdf0","#5050ff","#8a2a50"]}}}},
          {"data": {"values": [{"x": 954.1, "y": 20.55, "t": "Cu-2p"}]}, "mark": {"type": "text", "align": "left", "baseline": "alphabetic", "fontSize": 18, "fill": "#222"}, "encoding": {"text": {"field": "t"}}},
          {"data": {"values": [{"x": 980.7, "y": 21.8, "t": "(b)"}]}, "mark": {"type": "text", "align": "left", "baseline": "alphabetic", "fontSize": 17, "fontWeight": "bold", "fill": "#111"}, "encoding": {"text": {"field": "t"}}}
        ]
      },
      {"width": 34, "height": 10, "view": {"stroke": null}, "data": {"values": [{"v": 0}]}, "mark": {"type": "point", "opacity": 0}, "encoding": {}},
      {
        "width": 62, "height": 203,
        "encoding": {
          "x": {"field": "x", "type": "quantitative", "scale": {"domain": [454.4, 470.8], "reverse": true, "nice": false, "zero": false},
                "axis": {"values": [455, 460, 465, 470], "format": "d", "labelExpr": "datum.value % 10 == 0 ? datum.label : ''", "title": "Energia de legătură (eV)", "titleX": 37, "titlePadding": 4}},
          "y": {"field": "y", "type": "quantitative", "scale": {"domain": [0, 4.4], "nice": false},
                "axis": {"values": [0,0.5,1,1.5,2,2.5,3,3.5,4], "format": "d", "labelExpr": "datum.value % 1 == 0 ? datum.label : ''", "title": null}}
        },
        "layer": [
          {"data": {"name": "b_ti"}, "mark": {"type": "line", "strokeWidth": 1, "color": "#ff2a2a", "interpolate": "monotone"}, "encoding": {}},
          {"data": {"values": [{"x": 467.7, "y": 3.93, "t": "Ti-2p"}]}, "mark": {"type": "text", "align": "left", "baseline": "alphabetic", "fontSize": 18, "fill": "#222"}, "encoding": {"text": {"field": "t"}}}
        ]
      },
      {"width": 34, "height": 10, "view": {"stroke": null}, "data": {"values": [{"v": 0}]}, "mark": {"type": "point", "opacity": 0}, "encoding": {}},
      {
        "width": 121, "height": 203,
        "encoding": {
          "x": {"field": "x", "type": "quantitative", "scale": {"domain": [311.5, 380], "reverse": true, "nice": false, "zero": false},
                "axis": {"values": [320, 330, 340, 350, 360, 370, 380], "format": "d", "labelExpr": "datum.value % 20 == 0 ? datum.label : ''", "title": null}},
          "y": {"field": "y", "type": "quantitative", "scale": {"domain": [0, 10.9], "nice": false},
                "axis": {"values": [0,1,2,3,4,5,6,7,8,9,10], "format": "d", "labelExpr": "datum.value % 2 == 0 ? datum.label : ''", "title": null}}
        },
        "layer": [
          {"data": {"name": "b_ag"}, "mark": {"type": "line", "strokeWidth": 1, "color": "#ff2a2a", "interpolate": "monotone"}, "encoding": {}},
          {"data": {"name": "b_ag_lab"}, "mark": {"type": "text", "angle": 270, "align": "left", "baseline": "middle", "fontSize": 11, "fill": "#333"}, "encoding": {"text": {"field": "t"}}},
          {"data": {"values": [{"x": 363.2, "y": 9.93, "t": "Ag-3d"}, {"x": 338.7, "y": 3.76, "t": "Pt-4d"}]}, "mark": {"type": "text", "align": "left", "baseline": "alphabetic", "fontSize": 18, "fill": "#222"}, "encoding": {"text": {"field": "t"}}},
          {"data": {"values": [{"x": 351.1, "x2": 316.4, "y": 8.36, "y2": 5.8}]}, "mark": {"type": "rect", "fill": "white", "stroke": "#ff3333", "strokeWidth": 1.2}, "encoding": {"x2": {"field": "x2"}, "y2": {"field": "y2"}}},
          {"data": {"values": [{"x": 348.3, "y": 7.53, "t": "x"}, {"x": 348.3, "y": 6.1, "t": "x"}]}, "mark": {"type": "text", "align": "left", "baseline": "alphabetic", "fontSize": 15, "fontStyle": "italic", "fill": "#222"}, "encoding": {"text": {"field": "t"}}},
          {"data": {"values": [{"x": 345.3, "y": 7.3, "t": "Ag"}, {"x": 345.3, "y": 5.87, "t": "Pt"}]}, "mark": {"type": "text", "align": "left", "baseline": "alphabetic", "fontSize": 8, "fontStyle": "italic", "fill": "#222"}, "encoding": {"text": {"field": "t"}}},
          {"data": {"values": [{"x": 337.7, "y": 7.53, "t": "= 85%"}, {"x": 337.7, "y": 6.1, "t": "= 15%"}]}, "mark": {"type": "text", "align": "left", "baseline": "alphabetic", "fontSize": 14, "fill": "#222"}, "encoding": {"text": {"field": "t"}}}
        ]
      },
      {"width": 48, "height": 10, "view": {"stroke": null}, "data": {"values": [{"v": 0}]}, "mark": {"type": "point", "opacity": 0}, "encoding": {}},
      {
        "width": 284, "height": 206,
        "encoding": {
          "x": {"field": "x", "type": "quantitative", "scale": {"domain": [100, 1000], "nice": false, "zero": false},
                "axis": {"values": [100,200,300,400,500,600,700,800,900,1000], "format": "d", "labelExpr": "datum.value % 200 == 0 ? datum.label : ''", "title": "Numere de undă (cm⁻¹)", "titlePadding": 2}},
          "y": {"field": "y", "type": "quantitative", "scale": {"domain": [0, 12.05], "nice": false},
                "axis": {"values": [0,1,2,3,4,5,6,7,8,9,10,11,12], "labels": false, "title": "Intensitatea Raman (u.a.)", "titlePadding": 1}}
        },
        "layer": [
          {"data": {"name": "d_vl"}, "transform": [{"filter": "datum.s != 'TiO2'"}], "mark": {"type": "rule", "strokeDash": [2, 2], "strokeWidth": 1},
           "encoding": {"y2": {"field": "y2"}, "color": {"field": "s", "type": "nominal", "scale": {"domain": ["(1) Cu20+TiO₂+Pd","(2) Cu30+TiO₂+Pd","Cu2O","CuO","TiO2"], "range": ["#2e9a2e","#ff9a2e","#ff2222","#111111","#2a2aff"]}}}},
          {"data": {"name": "d_vl"}, "transform": [{"filter": "datum.s == 'TiO2'"}], "mark": {"type": "rule", "strokeDash": [2, 2], "strokeDashOffset": 2, "strokeWidth": 1},
           "encoding": {"y2": {"field": "y2"}, "color": {"field": "s", "type": "nominal", "scale": {"domain": ["(1) Cu20+TiO₂+Pd","(2) Cu30+TiO₂+Pd","Cu2O","CuO","TiO2"], "range": ["#2e9a2e","#ff9a2e","#ff2222","#111111","#2a2aff"]}}}},
          {"data": {"name": "rd"}, "mark": {"type": "line", "strokeWidth": 1, "interpolate": "monotone"},
           "encoding": {"color": {"field": "s", "type": "nominal",
              "scale": {"domain": ["(1) Cu20+TiO₂+Pd","(2) Cu30+TiO₂+Pd","Cu2O","CuO","TiO2"], "range": ["#2e9a2e","#ff9a2e","#ff2222","#111111","#2a2aff"]},
              "legend": {"values": ["(1) Cu20+TiO₂+Pd","(2) Cu30+TiO₂+Pd"], "title": null, "orient": "top-right", "offset": 1, "symbolType": "M-1.6,0H1.6", "symbolStrokeWidth": 1.5, "symbolSize": 150, "labelFont": "Liberation Sans", "labelFontSize": 10.5, "labelFontWeight": "bold", "labelLimit": 250, "strokeColor": "#999", "fillColor": "white", "padding": 4, "rowPadding": 2,
                "encode": {"labels": {"update": {"fill": {"signal": "datum.value === '(1) Cu20+TiO₂+Pd' ? '#2e9a2e' : '#ff9a2e'"}}}}}}}},
          {"data": {"name": "d_num"}, "mark": {"type": "text", "align": "center", "baseline": "middle", "fontSize": 12, "fontWeight": "bold"},
           "encoding": {"text": {"field": "t"}, "color": {"field": "s", "type": "nominal", "scale": {"domain": ["(1) Cu20+TiO₂+Pd","(2) Cu30+TiO₂+Pd","Cu2O","CuO","TiO2"], "range": ["#2e9a2e","#ff9a2e","#ff2222","#111111","#2a2aff"]}}}},
          {"data": {"name": "d_sym"}, "mark": {"type": "text", "align": "center", "baseline": "middle", "fontSize": 11, "fontWeight": "bold"},
           "encoding": {"text": {"field": "t"}, "color": {"field": "s", "type": "nominal", "scale": {"domain": ["(1) Cu20+TiO₂+Pd","(2) Cu30+TiO₂+Pd","Cu2O","CuO","TiO2"], "range": ["#2e9a2e","#ff9a2e","#ff2222","#111111","#2a2aff"]}}}},
          {"data": {"name": "d_ann"}, "mark": {"type": "text", "align": "right", "baseline": "alphabetic", "fontSize": 14, "fontWeight": "bold"},
           "encoding": {"text": {"field": "t"}, "color": {"field": "s", "type": "nominal", "scale": {"domain": ["(1) Cu20+TiO₂+Pd","(2) Cu30+TiO₂+Pd","Cu2O","CuO","TiO2"], "range": ["#2e9a2e","#ff9a2e","#ff2222","#111111","#2a2aff"]}}}},
          {"data": {"name": "d_ann"}, "mark": {"type": "text", "align": "left", "baseline": "alphabetic", "fontSize": 9, "fontWeight": "bold", "dx": 1, "dy": 4},
           "encoding": {"text": {"field": "sub"}, "color": {"field": "s", "type": "nominal", "scale": {"domain": ["(1) Cu20+TiO₂+Pd","(2) Cu30+TiO₂+Pd","Cu2O","CuO","TiO2"], "range": ["#2e9a2e","#ff9a2e","#ff2222","#111111","#2a2aff"]}}}},
          {"data": {"name": "d_ann"}, "mark": {"type": "text", "align": "left", "baseline": "alphabetic", "fontSize": 9, "fontWeight": "bold", "dx": 1, "dy": -7},
           "encoding": {"text": {"field": "sup"}, "color": {"field": "s", "type": "nominal", "scale": {"domain": ["(1) Cu20+TiO₂+Pd","(2) Cu30+TiO₂+Pd","Cu2O","CuO","TiO2"], "range": ["#2e9a2e","#ff9a2e","#ff2222","#111111","#2a2aff"]}}}},
          {"data": {"name": "d_leg"}, "mark": {"type": "text", "align": "right", "baseline": "middle", "fontSize": 11, "fontWeight": "bold"},
           "encoding": {"text": {"field": "t"}, "color": {"field": "s", "type": "nominal", "scale": {"domain": ["(1) Cu20+TiO₂+Pd","(2) Cu30+TiO₂+Pd","Cu2O","CuO","TiO2"], "range": ["#2e9a2e","#ff9a2e","#ff2222","#111111","#2a2aff"]}}}},
          {"data": {"values": [{"x": 58.8, "y": 11.52, "t": "(d)"}]}, "mark": {"type": "text", "align": "left", "baseline": "alphabetic", "fontSize": 17, "fontWeight": "bold", "fill": "#111"},
           "encoding": {"text": {"field": "t"}}}
        ]
      }
    ]
  }
]
}
